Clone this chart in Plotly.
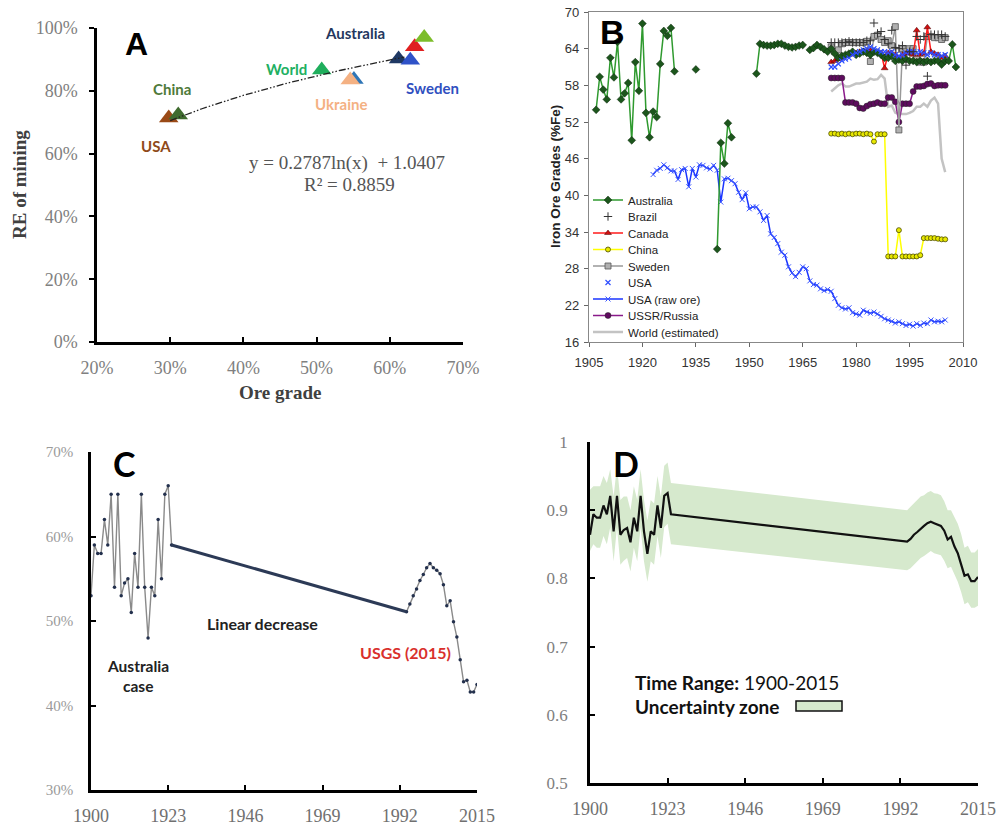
import numpy as np
import plotly.graph_objects as go

W, H = 1000, 825
def px(x): return x / W
def py(y): return 1 - y / H

SERIF = "Liberation Serif"
SANS = "Liberation Sans"
CAL = "Lato"

# ---------------- Panel A data ----------------
a_names = ["USA", "China", "World", "Ukraine (edge)", "Ukraine", "Australia", "Sweden", "Canada", "India"]
a_grade = [29.8, 31.1, 50.7, 55.1, 54.6, 61.2, 62.8, 63.4, 64.7]
a_re = [71.3, 72.3, 86.6, 83.6, 83.4, 90.1, 89.7, 94.0, 97.0]
a_colors = ["#9a4a16", "#3f6b2f", "#1fae5c", "#2e75b6", "#f4b183", "#1f3864", "#2f52c8", "#e02020", "#7cbd2a"]
trend_a, trend_b = 0.2787, 1.0407
trend_range = [30, 62]
a_xticks = [20, 30, 40, 50, 60, 70]
a_yticks = [0, 20, 40, 60, 80, 100]

# ---------------- Panel B data ----------------
aus_years = (list(range(1907, 1930)) + [1930] + [1935, 1936] + list(range(1941, 1946)) + [1946]
             + list(range(1952, 1966)) + [1966] + list(range(1967, 2009)))
aus_val = [54.0, 59.4, 57.3, 55.7, 62.5, 59.3, 65.1, 55.7, 56.7, 58.4, 49.0, 61.8, 57.1, 68.1, 53.5,
           49.5, 53.7, 52.8, 61.5, 66.9, 66.1, 67.4, 60.3,
           None,
           60.6, None,
           31.2, 48.6, 45.2, 51.8, 49.5, None,
           59.9, 64.8, 64.6, 64.5, 64.5, 64.6, 64.8, 64.8, 64.5, 64.3, 64.2, 64.3, 64.5, 64.6, None,
           63.8, 64.1, 64.6, 64.3, 63.9, 63.5,
           64.0, 63.2, 62.5, 62.8, 63.0, 63.2, 63.5, 63.0, 63.2, 63.5,
           63.3, 63.0, 63.5, 63.3, 63.0, 62.5, 62.5, 62.8, 62.0, 62.2,
           62.0, 62.3, 62.0, 62.0, 61.8, 62.0, 61.8, 62.0, 61.8, 62.0,
           62.0, 61.4, 62.0, 62.0, 64.7, 61.0]

yrs73 = list(range(1973, 2006))
brazil_val = [65.0, 65.0, 65.0, 65.0, 65.0, 65.2, 65.0, 65.0, 65.0, 65.0,
              65.3, 65.3, 68.2, 66.5, 66.8, 65.5, 64.8, 67.0, 64.2, 64.0,
              64.5, 61.3, 63.5, 63.5, 66.0, 65.5, 66.0, 59.5, 66.3, 66.3,
              66.3, 66.3, 66.0]
canada_val = [61.8, 62.0, 62.3, 62.5, 62.8, 63.0, 63.2, 63.3, 63.5, 63.6,
              63.7, 63.7, 63.5, 63.5, 63.3, 60.8, 63.3, 63.3, 63.0, 62.5,
              63.0, 63.2, 63.3, 63.0, 67.0, 63.0, 63.2, 67.5, 63.5, 63.2,
              63.0, 62.5, 62.8]
china_val = [50.1, 50.1, 50.0, 50.1, 50.0, 50.1, 50.0, 50.1, 50.1, 50.0,
             50.1, 50.0, 48.8, 50.0, 50.0, 50.0, 30.0, 30.0, 30.0, 34.3,
             30.0, 30.0, 30.0, 30.0, 30.0, 30.2, 33.0, 33.0, 33.0, 33.0,
             32.9, 32.8, 32.8]
sweden_val = [64.3, 63.5, 63.8, 64.8, 65.0, 65.0, 65.0, 65.0, 65.0, 65.0,
              65.2, 61.9, 66.0, 66.2, 65.5, 65.0, 65.3, 64.5, 67.6, 50.7,
              64.0, 63.5, 64.0, 64.0, 62.5, 61.8, 61.8, 66.0, 66.0, 65.8,
              65.8, 65.5, 65.8]
usa_val = [61.0, 61.0, 61.5, 62.0, 62.3, 62.5, 63.0, 63.3, 63.5, 63.8,
           64.0, 64.3, 64.0, 63.8, 63.5, 63.5, 63.3, 63.5, 63.0, 62.8,
           63.0, 63.3, 63.5, 63.5, 63.3, 63.5, 63.3, 63.0, 63.3, 63.0,
           63.0, 62.8, 63.0]
ussr_val = [59.2, 59.2, 59.2, 59.2, 55.2, 55.2, 55.2, 55.0, 54.3, 54.2,
            54.6, 54.9, 55.0, 55.2, 55.0, 55.0, 56.0, 56.0, 55.3, 52.0,
            55.0, 55.0, 55.0, 57.0, 57.8, 57.8, 57.9, 58.2, 58.3, 57.9,
            58.0, 58.0, 58.0]
world_val = [57.0, 57.5, 58.0, 58.3, 57.8, 57.8, 58.0, 58.3, 58.3, 58.4,
             58.6, 59.1, 58.9, 59.0, 59.7, 59.1, 54.5, 54.7, 53.5, 53.3,
             53.3, 53.3, 53.5, 53.8, 54.5, 54.5, 55.0, 54.5, 55.5, 56.0,
             55.0, 46.0, 43.8]
usa_raw_years = list(range(1923, 2006))
usa_raw_val = [43.4, 44.1, 44.4, 45.0, 44.5, 44.0, 44.0,              # 1923-1929
               42.6, 44.2, 44.4, 41.4, 44.4, 43.0, 45.0, 44.9, 44.5, 44.3,  # 1930-1939
               44.9, 44.1, 38.9, 42.7, 42.8, 42.4, 41.9, 40.5, 39.3, 40.4,  # 1940-1949
               37.8, 38.1, 38.1, 37.3, 35.9, 36.7, 33.7, 33.1, 32.1, 30.7,  # 1950-1959
               30.2, 28.3, 27.3, 26.7, 27.4, 28.3, 28.0, 26.0, 25.4, 25.3,  # 1960-1969
               24.7, 24.4, 24.6, 24.3, 23.1, 22.0, 21.6, 21.4, 21.6, 20.8,  # 1970-1979
               20.6, 20.4, 21.2, 20.9, 20.7, 20.9, 20.6, 20.2, 19.8, 19.6,  # 1980-1989
               19.4, 19.1, 19.3, 19.0, 18.7, 18.9, 18.6, 19.0, 18.7, 19.1,  # 1990-1999
               19.0, 19.6, 19.3, 19.4, 19.3, 19.6]                    # 2000-2005

# ---------------- Panel C data ----------------
c_years_early = list(range(1900, 1925))
c_val_early = [53, 59, 58, 58, 62, 59, 65, 54, 65, 53, 54.5, 55, 51, 58, 54, 65, 54, 48, 54, 53,
               62, 55, 65, 66, 59]
c_years_late = list(range(1994, 2016))
c_val_late = [51.1, 52.0, 53.0, 53.8, 54.8, 55.5, 56.3, 56.8, 56.3, 56.0, 55.6, 54.3, 51.8, 52.4,
              49.9, 48.1, 45.4, 42.8, 43.0, 41.6, 41.6, 42.5]
c_yticks = [30, 40, 50, 60, 70]
year_ticks = [1900, 1923, 1946, 1969, 1992, 2015]

# ---------------- Panel D data ----------------
d_years = c_years_early + c_years_late
d_val = [0.864, 0.894, 0.889, 0.889, 0.907, 0.894, 0.921, 0.869, 0.921, 0.864, 0.871, 0.874, 0.853,
         0.889, 0.869, 0.921, 0.869, 0.836, 0.869, 0.864, 0.907, 0.874, 0.921, 0.925, 0.894,
         0.854, 0.858, 0.864, 0.868, 0.873, 0.877, 0.881, 0.883, 0.881, 0.879, 0.877, 0.870,
         0.857, 0.861, 0.847, 0.837, 0.821, 0.804, 0.806, 0.796, 0.796, 0.802]
d_upper = [0.93, 0.935, 0.935, 0.935, 0.95, 0.94, 0.96, 0.92, 0.965, 0.915, 0.92, 0.92, 0.90,
           0.935, 0.915, 0.96, 0.915, 0.885, 0.915, 0.91, 0.95, 0.92, 0.965, 0.97, 0.94,
           0.90, 0.905, 0.91, 0.915, 0.92, 0.922, 0.926, 0.928, 0.925, 0.924, 0.922, 0.913,
           0.90, 0.90, 0.89, 0.88, 0.865, 0.845, 0.848, 0.838, 0.838, 0.843]
d_lower = [0.84, 0.85, 0.845, 0.845, 0.862, 0.85, 0.875, 0.825, 0.875, 0.82, 0.826, 0.83, 0.81,
           0.845, 0.825, 0.875, 0.825, 0.795, 0.825, 0.82, 0.862, 0.83, 0.875, 0.88, 0.85,
           0.812, 0.815, 0.82, 0.824, 0.83, 0.833, 0.837, 0.84, 0.837, 0.836, 0.834, 0.826,
           0.815, 0.817, 0.805, 0.795, 0.78, 0.762, 0.765, 0.757, 0.757, 0.76]
d_yticks = [0.5, 0.6, 0.7, 0.8, 0.9, 1.0]
d_yticktext = ["0.5", "0.6", "0.7", "0.8", "0.9", "1"]

fig = go.Figure()

# ---------------- Panel A traces ----------------
for n, gx, ry, col in zip(a_names, a_grade, a_re, a_colors):
    fig.add_trace(go.Scatter(x=[gx], y=[ry], mode="markers", name=n, showlegend=False,
                             marker=dict(symbol="triangle-up", size=17, color=col, line=dict(width=0)),
                             xaxis="x", yaxis="y"))
trend_x = np.linspace(trend_range[0], trend_range[1], 60)
trend_y = 100 * (trend_a * np.log(trend_x / 100) + trend_b)
fig.add_trace(go.Scatter(x=trend_x, y=trend_y, mode="lines", showlegend=False,
                         line=dict(color="#222", width=1.3, dash="7px,2px,1.5px,2px,1.5px,2px"),
                         xaxis="x", yaxis="y"))

# ---------------- Panel B traces ----------------
b_traces = [
    ("World (estimated)", yrs73, world_val, dict(mode="lines", line=dict(color="#c3c3c3", width=2.5)), 9),
    ("China", yrs73, china_val, dict(mode="lines+markers", line=dict(color="#ffff00", width=1.5),
                                      marker=dict(symbol="circle", size=5, color="#e8e800",
                                                  line=dict(color="#4d4d00", width=0.8))), 4),
    ("USSR/Russia", yrs73, ussr_val, dict(mode="lines+markers", line=dict(color="#8a1a8a", width=1.5),
                                           marker=dict(symbol="circle", size=6, color="#5e0b5e",
                                                       line=dict(color="#222", width=0.5))), 8),
    ("Sweden", yrs73, sweden_val, dict(mode="lines+markers", line=dict(color="#999999", width=1.5),
                                        marker=dict(symbol="square", size=6, color="#b0b0b0",
                                                    line=dict(color="#555", width=0.8))), 5),
    ("Canada", yrs73, canada_val, dict(mode="lines+markers", line=dict(color="#ff1a1a", width=1.5),
                                        marker=dict(symbol="triangle-up", size=6, color="#d01010",
                                                    line=dict(color="#400", width=0.5))), 3),
    ("USA (raw ore)", usa_raw_years, usa_raw_val, dict(mode="lines+markers", line=dict(color="#1a35ff", width=1.5),
                                                        marker=dict(symbol="x-thin", size=5,
                                                                    line=dict(color="#3a55ff", width=1))), 7),
    ("Australia", aus_years, aus_val, dict(mode="lines+markers", line=dict(color="#2f9a2f", width=1.5),
                                            marker=dict(symbol="diamond", size=6, color="#1c561c",
                                                        line=dict(color="#0a250a", width=0.5)),
                                            connectgaps=False), 1),
    ("USA", yrs73, usa_val, dict(mode="markers", marker=dict(symbol="x-thin", size=5,
                                                             line=dict(color="#2d4dff", width=1.2))), 6),
    ("Brazil", yrs73, brazil_val, dict(mode="markers", marker=dict(symbol="cross-thin", size=6,
                                                                   line=dict(color="#333", width=1))), 2),
]
legend_rows = [200, 216.5, 233, 249.5, 266, 282.5, 299, 315.5, 332]
for name, xs, ys, style, li in b_traces:
    lg = "legend" if li == 1 else f"legend{li}"
    fig.add_trace(go.Scatter(x=xs, y=ys, name=name, legend=lg, showlegend=True,
                             xaxis="x2", yaxis="y2", **style))

# ---------------- Panel C traces ----------------
fig.add_trace(go.Scatter(x=c_years_early + c_years_late, y=c_val_early + c_val_late,
                         mode="lines+markers", showlegend=False,
                         line=dict(color="#8a8a8a", width=1.4),
                         marker=dict(size=3.5, color="#23304d"),
                         xaxis="x3", yaxis="y3"))
fig.add_trace(go.Scatter(x=[c_years_early[-1], c_years_late[0]], y=[c_val_early[-1], c_val_late[0]],
                         mode="lines", line=dict(color="#2c3a56", width=3), showlegend=False,
                         xaxis="x3", yaxis="y3"))

# ---------------- Panel D traces ----------------
fig.add_trace(go.Scatter(x=d_years, y=d_lower, mode="lines", line=dict(width=0, color="rgba(0,0,0,0)"),
                         showlegend=False, xaxis="x4", yaxis="y4"))
fig.add_trace(go.Scatter(x=d_years, y=d_upper, mode="lines", line=dict(width=0, color="rgba(0,0,0,0)"),
                         fill="tonexty", fillcolor="#d6e9cd", showlegend=False, xaxis="x4", yaxis="y4"))
fig.add_trace(go.Scatter(x=d_years, y=d_val, mode="lines", line=dict(color="#111", width=2.2),
                         showlegend=False, xaxis="x4", yaxis="y4"))

# ---------------- Layout ----------------
def base_axis(**kw):
    d = dict(showgrid=False, zeroline=False, showline=True, fixedrange=True, automargin=False)
    d.update(kw)
    return d

layout = dict(
    width=W, height=H, margin=dict(l=0, r=0, t=0, b=0, pad=0, autoexpand=False),
    paper_bgcolor="white", plot_bgcolor="white", showlegend=True,
    xaxis=base_axis(domain=[0.097, 0.463], anchor="y", range=[20, 70], tickvals=a_xticks,
                    ticktext=[f"{v}%" for v in a_xticks], linecolor="black", linewidth=2.5,
                    ticks="inside", ticklen=5, tickwidth=2, tickcolor="black", ticklabelstandoff=8,
                    tickfont=dict(family=SERIF, size=18, color="#808080")),
    yaxis=base_axis(domain=[py(342), py(28)], anchor="x", range=[0, 100], tickvals=a_yticks,
                    ticktext=[f"{v}%" for v in a_yticks], linecolor="black", linewidth=2.5,
                    ticks="outside", ticklen=5, tickwidth=2, tickcolor="black", ticklabelstandoff=8,
                    tickfont=dict(family=SERIF, size=18, color="#808080")),
    xaxis2=base_axis(domain=[0.589, 0.963], anchor="y2", range=[1905, 2010], tick0=1905, dtick=15,
                     mirror=True, linecolor="#888", linewidth=1.2, ticks="outside", ticklen=4,
                     tickcolor="#666", ticklabelstandoff=4,
                     tickfont=dict(family=SANS, size=13, color="#333")),
    yaxis2=base_axis(domain=[py(342), py(12)], anchor="x2", range=[16, 70], tick0=16, dtick=6,
                     mirror=True, linecolor="#888", linewidth=1.2, ticks="outside", ticklen=4,
                     tickcolor="#666", ticklabelstandoff=2,
                     tickfont=dict(family=SANS, size=13, color="#333")),
    xaxis3=base_axis(domain=[0.091, 0.477], anchor="y3", range=[1900, 2015],
                     tickvals=year_ticks, linecolor="black", linewidth=2.5,
                     ticks="inside", ticklen=5, tickwidth=2, tickcolor="black", ticklabelstandoff=8,
                     tickfont=dict(family=SERIF, size=18, color="#707070")),
    yaxis3=base_axis(domain=[py(790), py(452)], anchor="x3", range=[30, 70], tickvals=c_yticks,
                     ticktext=[f"{v}%" for v in c_yticks], linecolor="black", linewidth=2.5,
                     ticks="inside", ticklen=5, tickwidth=2, tickcolor="black", ticklabelstandoff=12,
                     tickfont=dict(family=SERIF, size=15, color="#9a9a9a")),
    xaxis4=base_axis(domain=[0.590, 0.978], anchor="y4", range=[1900, 2015],
                     tickvals=year_ticks, linecolor="black", linewidth=2.5,
                     ticks="inside", ticklen=5, tickwidth=2, tickcolor="black", ticklabelstandoff=8,
                     tickfont=dict(family=SERIF, size=18, color="#707070")),
    yaxis4=base_axis(domain=[py(783), py(442)], anchor="x4", range=[0.5, 1],
                     tickvals=d_yticks, ticktext=d_yticktext,
                     linecolor="black", linewidth=2.5, ticks="inside", ticklen=5, tickwidth=2,
                     tickcolor="black", ticklabelstandoff=16,
                     tickfont=dict(family=SERIF, size=17, color="#808080")),
)
for i, row in enumerate(legend_rows, start=1):
    key = "legend" if i == 1 else f"legend{i}"
    layout[key] = dict(x=px(588), xanchor="left", y=py(row), yanchor="middle",
                       bgcolor="rgba(0,0,0,0)", borderwidth=0, itemwidth=30,
                       font=dict(family=SANS, size=11.5, color="#222"))
fig.update_layout(**layout)

ann = []
def A(text, x, y, size, color="#000", family=SANS, bold=False, angle=0, xanchor="center", ref="paper"):
    t = f"<b>{text}</b>" if bold else text
    d = dict(text=t, showarrow=False, font=dict(family=family, size=size, color=color),
             textangle=angle, xanchor=xanchor, yanchor="middle")
    if ref == "paper":
        d.update(x=px(x), y=py(y), xref="paper", yref="paper")
    else:
        d.update(x=x, y=y, xref="x", yref="y")
    ann.append(d)

# Panel A labels (data coordinates of panel A)
A("A", 25.4, 95.0, 32, "#000", SANS, True, ref="a")
A("India", 67.3, 100.4, 15, "#7ab41e", CAL, True, ref="a")
A("Australia", 55.3, 98.3, 15, "#24375e", CAL, True, ref="a")
A("World", 45.9, 87.1, 15, "#21b062", CAL, True, ref="a")
A("China", 30.3, 80.5, 15, "#4f7a3a", CAL, True, ref="a")
A("Ukraine", 53.4, 75.9, 15, "#f4b183", CAL, True, ref="a")
A("Sweden", 65.8, 81.0, 15, "#2f4fc0", CAL, True, ref="a")
A("USA", 28.1, 62.3, 15, "#8f4a1a", CAL, True, ref="a")
A("y = 0.2787ln(x) &nbsp;+ 1.0407", 54.2, 57.0, 19, "#555", SERIF, ref="a")
A("R² = 0.8859", 54.5, 50.3, 19, "#555", SERIF, ref="a")
A("Ore grade", 280, 393, 19, "#404040", SERIF, True)
A("RE of mining", 19, 185, 19, "#404040", SERIF, True, angle=-90)

# Panel B
A("B", 612, 32, 34, "#000", SANS, True)
A("Iron Ore Grades (%Fe)", 555, 177, 13.5, "#222", SANS, True, angle=-90)

# Panel C
A("C", 124, 464, 34, "#000", CAL, True)
A("Australia", 138, 666, 15.5, "#222", CAL, True)
A("case", 138, 686, 15.5, "#222", CAL, True)
A("Linear decrease", 262, 623, 16, "#222", CAL, True)
A("USGS (2015)", 405, 652, 16, "#d9302c", CAL, True)

# Panel D
A("D", 626, 464, 34, "#000", CAL, True)
A("<b>Time Range:</b> 1900-2015", 633, 682, 19, "#111", CAL, False, xanchor="left")
A("Uncertainty zone", 633, 706, 19, "#111", CAL, True, xanchor="left")

fig.update_layout(annotations=ann,
                  shapes=[dict(type="rect", xref="paper", yref="paper", x0=px(796), x1=px(842),
                               y0=py(711), y1=py(701), fillcolor="#d6e9cd",
                               line=dict(color="#111", width=1.5))])

fig.write_html("out.html", config={"displayModeBar": False},
               post_script="document.body.style.margin='0px';document.body.style.overflow='hidden';")
